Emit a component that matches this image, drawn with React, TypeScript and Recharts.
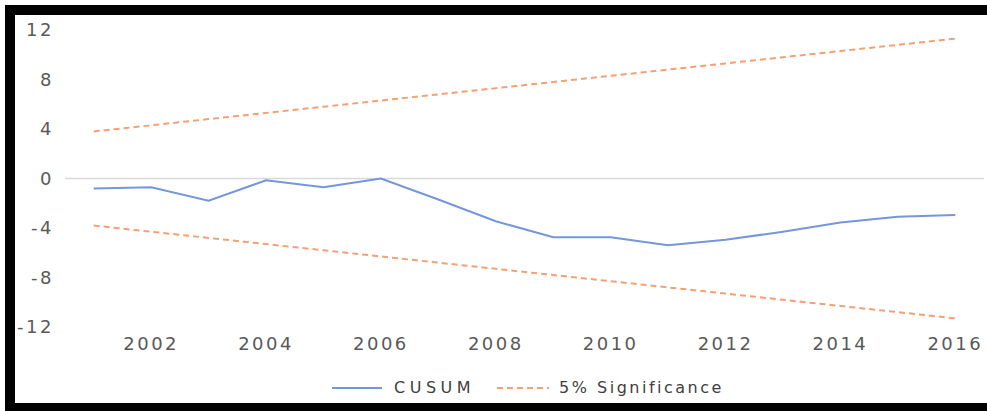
import { LineChart, Line, XAxis, YAxis, ReferenceLine } from 'recharts'

const YEARS = [2001, 2002, 2003, 2004, 2005, 2006, 2007, 2008, 2009, 2010, 2011, 2012, 2013, 2014, 2015, 2016]
const CUSUM = [-0.8, -0.7, -1.8, -0.15, -0.7, 0, -1.7, -3.45, -4.75, -4.75, -5.4, -4.95, -4.3, -3.55, -3.1, -2.95]
const UPPER = [3.8, 4.3, 4.8, 5.3, 5.8, 6.3, 6.8, 7.3, 7.8, 8.3, 8.8, 9.3, 9.8, 10.3, 10.8, 11.3]
const LOWER = [-3.8, -4.3, -4.8, -5.3, -5.8, -6.3, -6.8, -7.3, -7.8, -8.3, -8.8, -9.3, -9.8, -10.3, -10.8, -11.3]
const X_TICKS = [2002, 2004, 2006, 2008, 2010, 2012, 2014, 2016]
const Y_TICKS = [-12, -8, -4, 0, 4, 8, 12]
const SERIES_NAMES = ['CUSUM', '5% Significance']

const BLUE = '#7397da'
const ORANGE = '#f5a073'

const data = YEARS.map((year, i) => ({
  year,
  cusum: CUSUM[i],
  upper: UPPER[i],
  lower: LOWER[i],
}))

const tickStyle = {
  fontFamily: 'DejaVu Sans',
  fontSize: 18,
  fill: '#595959',
  letterSpacing: 2.5,
}

function LegendRow() {
  return (
    <div
      style={{
        position: 'absolute',
        left: 317,
        top: 362,
        display: 'flex',
        alignItems: 'center',
        fontFamily: 'DejaVu Sans',
        fontSize: 16,
        color: '#404040',
        letterSpacing: 3,
        lineHeight: '22px',
      }}
    >
      <svg width={50} height={4} style={{ marginRight: 12 }}>
        <line x1={0} y1={2} x2={50} y2={2} stroke={BLUE} strokeWidth={2} />
      </svg>
      <span style={{ letterSpacing: 4.5, marginRight: 22 }}>{SERIES_NAMES[0]}</span>
      <svg width={52} height={4} style={{ marginRight: 10 }}>
        <line x1={0} y1={2} x2={52} y2={2} stroke={ORANGE} strokeWidth={2} strokeDasharray="6 4" />
      </svg>
      <span style={{ letterSpacing: 2.5 }}>{SERIES_NAMES[1]}</span>
    </div>
  )
}

export default function App() {
  return (
    <div
      style={{
        position: 'absolute',
        left: 5,
        top: 5,
        width: 982,
        height: 406,
        boxSizing: 'border-box',
        borderTop: '10px solid #000',
        borderLeft: '10px solid #000',
        borderBottom: '8px solid #000',
        background: '#fff',
        overflow: 'hidden',
      }}
    >
      <LineChart
        width={972}
        height={388}
        data={data}
        margin={{ top: 15, right: 3, bottom: 46, left: 0 }}
      >
        <XAxis
          dataKey="year"
          type="number"
          domain={[2000.5, 2016.5]}
          ticks={X_TICKS}
          axisLine={false}
          tickLine={false}
          tickSize={0}
          tickMargin={10}
          height={30}
          tick={tickStyle}
        />
        <YAxis
          type="number"
          domain={[-12, 12]}
          ticks={Y_TICKS}
          axisLine={false}
          tickLine={false}
          tickSize={0}
          tickMargin={11}
          width={50}
          tick={tickStyle}
        />
        <ReferenceLine y={0} stroke="#d9d9d9" strokeWidth={1.5} />
        <Line
          type="linear"
          dataKey="cusum"
          name={SERIES_NAMES[0]}
          stroke={BLUE}
          strokeWidth={2}
          dot={false}
          isAnimationActive={false}
        />
        <Line
          type="linear"
          dataKey="upper"
          name={SERIES_NAMES[1]}
          stroke={ORANGE}
          strokeWidth={2}
          strokeDasharray="6 4"
          dot={false}
          isAnimationActive={false}
        />
        <Line
          type="linear"
          dataKey="lower"
          name={SERIES_NAMES[1]}
          stroke={ORANGE}
          strokeWidth={2}
          strokeDasharray="6 4"
          dot={false}
          legendType="none"
          isAnimationActive={false}
        />
      </LineChart>
      <LegendRow />
    </div>
  )
}
